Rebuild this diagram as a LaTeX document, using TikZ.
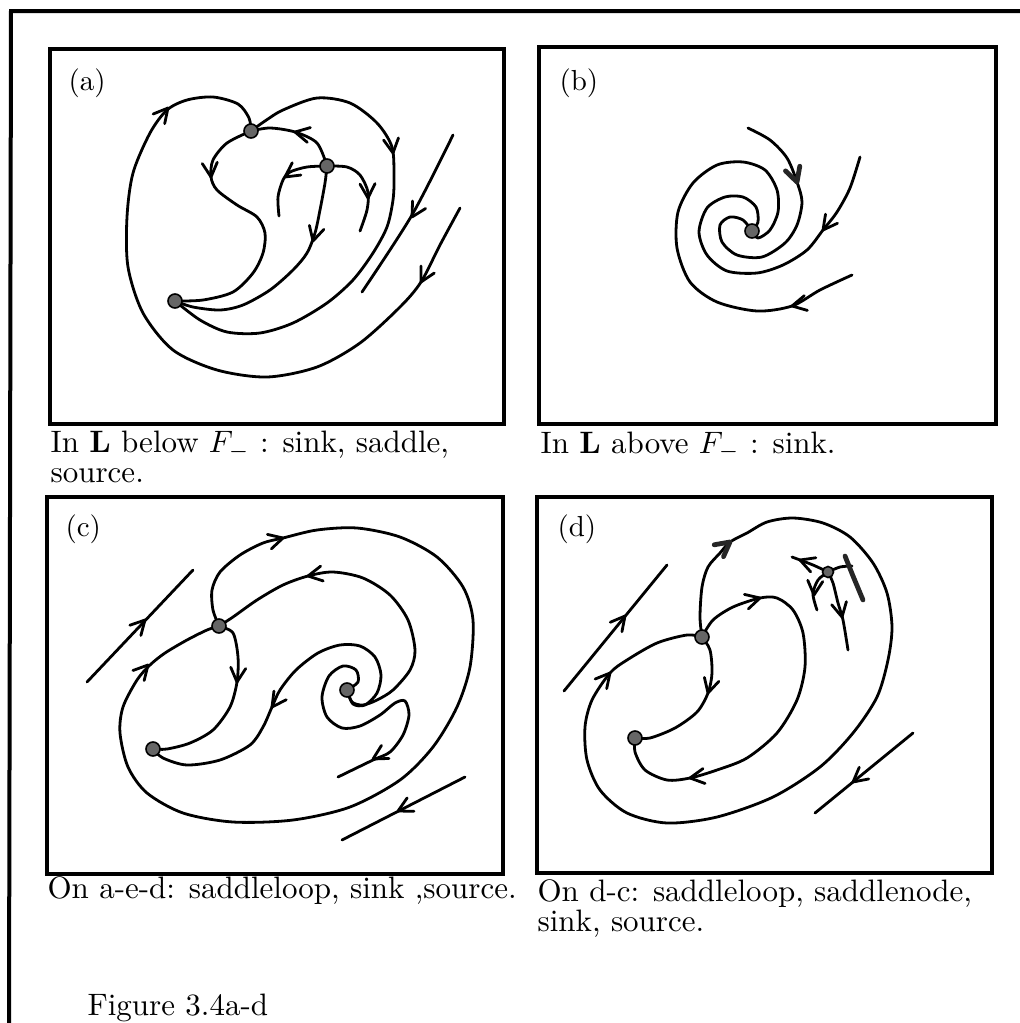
\documentclass[tikz,border=0pt]{standalone}
\usetikzlibrary{calc}
\begin{document}
\begin{tikzpicture}[x=0.5pt,y=-0.5pt,
  curve/.style={line width=1.4pt, line cap=round, line join=round},
  barbst/.style={line width=1.4pt, line cap=round, line join=round},
  thickbarb/.style={line width=2.4pt, line cap=round, line join=round, black!85},
  boxst/.style={line width=1.7pt},
  framest/.style={line width=2pt},
  dot/.style={circle, draw=black, fill=black!60, line width=0.8pt, minimum size=7pt, inner sep=0pt},
  captext/.style={anchor=base west, inner sep=0pt, align=left, font=\fontsize{10}{9.4}\selectfont, scale=1.55},
  lab/.style={anchor=base west, inner sep=0pt, font=\fontsize{10}{10}\selectfont, scale=1.45}]
\newcommand\ahead[3][barbst]{\draw[#1] (#2) ++(#3+152:16) -- (#2) -- ++(#3-152:16);}
\useasboundingbox (0,0) rectangle (1020,1023);
% outer frame
\draw[framest] (9,1023) -- (11,11) -- (1020,11);
% panel boxes
\draw[boxst] (50,49) rectangle (504,424);
\draw[boxst] (539,47) rectangle (996,424);
\draw[boxst] (47,497) rectangle (503,874);
\draw[boxst] (537,497) rectangle (992,873);
% labels
\node[lab] (la) at (68,90) {(a)};
\node[lab] (lb) at (559,90) {(b)};
\node[lab] (lc) at (65,536) {(c)};
\node[lab] (ld) at (557,536) {(d)};
% captions (base anchor = last line)
\node[captext] (ca) at (50,482) {In \textbf{L} below $F_-$ : sink, saddle,\\source.};
\node[captext] (cb) at (540,453) {In \textbf{L} above $F_-$ : sink.};
\node[captext] (cc) at (47,898) {On a-e-d: saddleloop, sink ,source.};
\node[captext] (cd) at (537,931) {On d-c: saddleloop, saddlenode,\\sink, source.};
\node[captext] (fig) at (87,1015) {Figure 3.4a-d};

% ================= panel (a)
\coordinate (S1) at (251,131);
\coordinate (S2) at (327,166);
\coordinate (Pa) at (175,301);
\draw[curve] plot[smooth] coordinates {(460,208) (440,245) (421,282) (400,307) (360,343) (317,367) (267,377) (217,370) (173,350) (143,313) (128,267) (127,217) (133,173) (150,133) (167,110) (187,100) (213,97) (238,104) (249,118) (S1)};
\draw[curve] plot[smooth] coordinates {(S1) (265,121) (283,110) (317,98) (350,103) (377,123) (392,147) (394,177) (393,200) (387,227) (373,253) (353,280) (327,303) (293,323) (260,333) (227,332) (200,320) (Pa)};
\draw[curve] plot[smooth] coordinates {(S1) (227,143) (213,160) (211,177) (217,190) (237,205) (257,217) (265,233) (263,253) (253,273) (233,292) (203,300) (Pa)};
\draw[curve] plot[smooth] coordinates {(S1) (270,128) (295,132) (317,143) (S2)};
\draw[curve] plot[smooth] coordinates {(S2) (307,167) (290,172) (283,180) (278,197) (279,216)};
\draw[curve] plot[smooth] coordinates {(S2) (347,167) (360,175) (368,192) (367,210) (360,231)};
\draw[curve] plot[smooth] coordinates {(S2) (325,183) (320,210) (315,233) (307,253) (293,270) (270,290) (243,305) (220,310) (193,307) (Pa)};
\draw[curve] plot[smooth] coordinates {(453,135) (412,215) (362,292)};
\ahead{168,108}{-50}
\ahead{421,282}{118}
\ahead{295,132}{192}
\ahead{393,153}{82}
\ahead{211,177}{85}
\ahead{285,177}{145}
\ahead{368,198}{88}
\ahead{313,241}{105}
\ahead{412,217}{120}
\node[dot] (S1d) at (S1) {};
\node[dot] (S2d) at (S2) {};
\node[dot] (Pad) at (Pa) {};

% ================= panel (b)
\coordinate (Cb) at (752,231);
\draw[curve] plot[smooth] coordinates {(852,275) (820,290) (792,306) (757,311) (717,302) (690,282) (677,248) (678,212) (693,183) (717,165) (743,162) (765,170) (777,190) (778,212) (770,230) (758,238) (Cb)};
\draw[curve] plot[smooth] coordinates {(748,128) (770,140) (787,158) (797,182) (802,202) (797,225) (785,243) (762,257) (737,255) (722,242) (720,225) (730,217) (743,220) (Cb)};
\draw[curve] plot[smooth] coordinates {(860,157) (850,188) (837,212) (823,230) (807,250) (783,265) (757,273) (727,271) (707,255) (699,232) (707,208) (725,197) (743,197) (756,207) (758,222) (Cb)};
\ahead{792,306}{168}
\ahead[thickbarb]{797,182}{72}
\ahead{823,230}{127}
\node[dot] (Cbd) at (Cb) {};

% ================= panel (c)
\coordinate (Sc) at (219,626);
\coordinate (Pc) at (153,749);
\coordinate (Qc) at (347,690);
\draw[curve] plot[smooth] coordinates {(Sc) (213,610) (212,590) (220,572) (240,555) (263,543) (283,538) (317,530) (357,528) (400,537) (437,557) (463,587) (473,620) (470,667) (457,707) (433,747) (400,780) (350,807) (293,820) (233,822) (183,813) (147,793) (128,767) (120,733) (123,707) (137,680) (150,665) (165,653) (187,640) (207,630) (Sc)};
\draw[curve] plot[smooth] coordinates {(Sc) (233,617) (257,600) (283,585) (308,576) (333,572) (363,578) (390,595) (408,620) (415,650) (410,670) (393,690) (377,700) (363,705) (352,702) (Qc)};
\draw[curve] plot[smooth] coordinates {(Qc) (353,704) (365,705) (377,693) (381,675) (375,657) (360,646) (340,645) (318,653) (296,670) (280,690) (272,707) (263,727) (250,745) (220,760) (187,765) (163,758) (Pc)};
\draw[curve] plot[smooth] coordinates {(Qc) (358,682) (356,670) (343,666) (329,676) (322,697) (327,717) (342,728) (360,726) (380,715) (395,703) (405,701) (409,715) (403,735) (390,752) (373,760) (338,777)};
\draw[curve] plot[smooth] coordinates {(Sc) (233,633) (238,657) (237,682) (230,707) (213,730) (190,743) (167,749) (Pc)};
\draw[curve] (87,682) -- (193,570);
\draw[curve] (342,840) -- (465,777);
\ahead{283,538}{-15}
\ahead{148,665}{-48}
\ahead{308,576}{170}
\ahead{237,682}{95}
\ahead{272,707}{125}
\ahead{373,759}{150}
\ahead{145,620}{-47}
\ahead{398,811}{153}
\node[dot] (Scd) at (Sc) {};
\node[dot] (Pcd) at (Pc) {};
\node[dot] (Qcd) at (Qc) {};

% ================= panel (d)
\coordinate (Sd) at (702,637);
\coordinate (Pd) at (635,738);
\coordinate (Nd) at (828,572);
\draw[curve] plot[smooth] coordinates {(Sd) (700,617) (702,587) (708,567) (720,553) (730,542) (747,533) (767,522) (793,518) (823,523) (850,537) (873,563) (887,593) (892,627) (888,660) (877,697) (853,733) (820,767) (773,797) (717,817) (667,823) (627,813) (600,790) (587,760) (585,727) (592,700) (610,673) (627,660) (657,643) (687,635) (Sd)};
\draw[curve] plot[smooth] coordinates {(Sd) (713,620) (733,607) (760,598) (777,598) (793,610) (803,633) (805,667) (797,700) (777,733) (747,758) (717,770) (690,778) (667,780) (645,770) (635,752) (Pd)};
\draw[curve] plot[smooth] coordinates {(Sd) (710,650) (712,673) (708,693) (697,712) (675,728) (650,738) (Pd)};
\draw[curve] (564,691) -- (667,565);
\draw[curve] (815,813) -- (913,733);
\draw[curve] plot[smooth] coordinates {(Nd) (813,565) (792,557)};
\draw[curve] plot[smooth] coordinates {(Nd) (818,580) (813,594) (817,610)};
\draw[curve] plot[smooth] coordinates {(Nd) (833,583) (838,603) (843,620) (848,650)};
\draw[curve] plot[smooth] coordinates {(Nd) (840,567) (852,566)};
\draw[thickbarb] (845,556) -- (853,576) -- (863,600);
\ahead[thickbarb]{730,542}{-38}
\ahead{610,673}{-50}
\ahead{760,598}{-15}
\ahead{690,778}{172}
\ahead{708,693}{105}
\ahead{625,616}{-51}
\ahead{853,782}{141}
\ahead{800,560}{200}
\ahead{814,595}{95}
\ahead{842,617}{78}
\node[dot] (Sdd) at (Sd) {};
\node[dot] (Pdd) at (Pd) {};
\node[dot, minimum size=5.5pt] (Ndd) at (Nd) {};
\end{tikzpicture}
\end{document}
